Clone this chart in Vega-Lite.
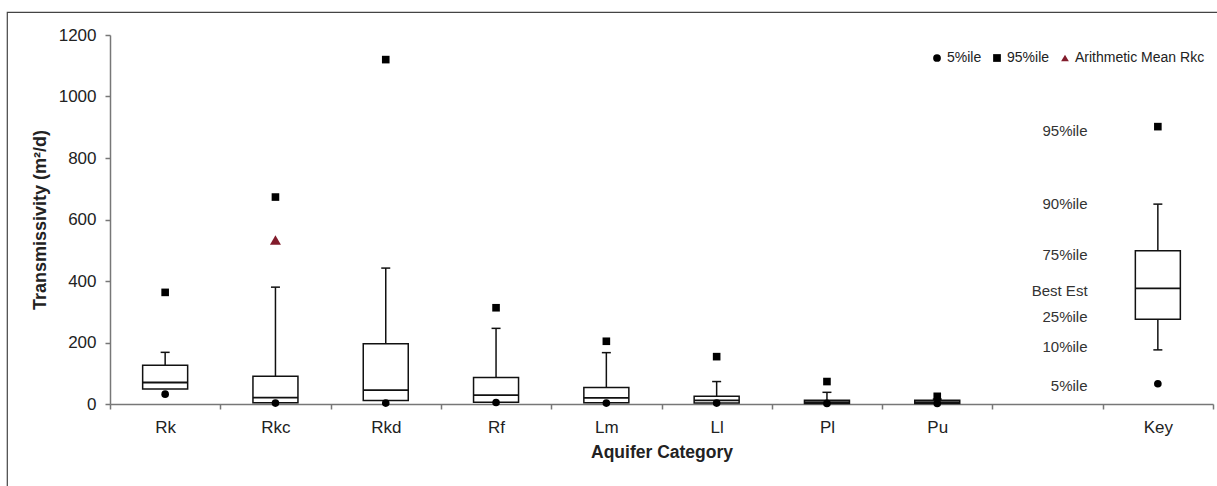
{
  "$schema": "https://vega.github.io/schema/vega-lite/v6.json",
  "autosize": {"type": "none"},
  "padding": {"left": 7, "top": 12, "right": 0, "bottom": 0},
  "width": 1210,
  "height": 474,
  "background": "white",
  "config": {
    "view": {"stroke": "#444", "strokeWidth": 1.2, "strokeDash": [1210, 1684, 474]},
    "font": "Liberation Sans",
    "axis": {
      "grid": false,
      "domainColor": "#777",
      "domainWidth": 1.5,
      "tickColor": "#777",
      "tickWidth": 1.5,
      "labelColor": "#222",
      "titleColor": "#222",
      "labelFont": "Liberation Sans",
      "titleFont": "Liberation Sans"
    },
    "legend": {
      "title": null,
      "orient": "none",
      "legendX": 923,
      "legendY": 39,
      "direction": "horizontal",
      "padding": 0,
      "labelFontSize": 14,
      "labelColor": "#222",
      "labelFont": "Liberation Sans",
      "symbolSize": 60,
      "labelOffset": 3,
      "columnPadding": 8
    }
  },
  "datasets": {
    "boxes": [
      {"cat": "Rk", "p10": null, "p25": 49, "p50": 70, "p75": 126, "p90": 168},
      {"cat": "Rkc", "p10": null, "p25": 4, "p50": 21, "p75": 90, "p90": 380},
      {"cat": "Rkd", "p10": null, "p25": 11, "p50": 45, "p75": 196, "p90": 442},
      {"cat": "Rf", "p10": null, "p25": 6, "p50": 29, "p75": 86, "p90": 246},
      {"cat": "Lm", "p10": null, "p25": 4, "p50": 20, "p75": 54, "p90": 167},
      {"cat": "Ll", "p10": null, "p25": 3, "p50": 12, "p75": 25, "p90": 73},
      {"cat": "Pl", "p10": null, "p25": 2, "p50": 6, "p75": 12, "p90": 38},
      {"cat": "Pu", "p10": null, "p25": 2, "p50": 6, "p75": 12, "p90": 16},
      {"cat": "Key", "p10": 176, "p25": 276, "p50": 376, "p75": 498, "p90": 650}
    ],
    "points": [
      {"cat": "Rk", "series": "5%ile", "value": 32},
      {"cat": "Rkc", "series": "5%ile", "value": 3},
      {"cat": "Rkd", "series": "5%ile", "value": 3},
      {"cat": "Rf", "series": "5%ile", "value": 5},
      {"cat": "Lm", "series": "5%ile", "value": 3},
      {"cat": "Ll", "series": "5%ile", "value": 3},
      {"cat": "Pl", "series": "5%ile", "value": 2},
      {"cat": "Pu", "series": "5%ile", "value": 2},
      {"cat": "Key", "series": "5%ile", "value": 66},
      {"cat": "Rk", "series": "95%ile", "value": 363},
      {"cat": "Rkc", "series": "95%ile", "value": 673},
      {"cat": "Rkd", "series": "95%ile", "value": 1120},
      {"cat": "Rf", "series": "95%ile", "value": 313},
      {"cat": "Lm", "series": "95%ile", "value": 204},
      {"cat": "Ll", "series": "95%ile", "value": 154},
      {"cat": "Pl", "series": "95%ile", "value": 73},
      {"cat": "Pu", "series": "95%ile", "value": 25},
      {"cat": "Key", "series": "95%ile", "value": 902}
    ],
    "means": [
      {"cat": "Rkc", "series": "Arithmetic Mean Rkc", "value": 533}
    ],
    "keylabels": [
      {"cat": " ", "label": "95%ile", "value": 889},
      {"cat": " ", "label": "90%ile", "value": 650},
      {"cat": " ", "label": "75%ile", "value": 486},
      {"cat": " ", "label": "Best Est", "value": 367},
      {"cat": " ", "label": "25%ile", "value": 284},
      {"cat": " ", "label": "10%ile", "value": 184},
      {"cat": " ", "label": "5%ile", "value": 57}
    ]
  },
  "encoding": {
    "x": {
      "field": "cat",
      "type": "nominal",
      "sort": null,
      "scale": {
        "domain": ["Rk", "Rkc", "Rkd", "Rf", "Lm", "Ll", "Pl", "Pu", " ", "Key"],
        "range": [103, 1206],
        "paddingInner": 0,
        "paddingOuter": 0
      },
      "axis": {
        "title": "Aquifer Category",
        "titleFontSize": 17.5,
        "titleFontWeight": "bold",
        "labelFontSize": 17,
        "labelAngle": 0,
        "tickBand": "extent",
        "tickSize": 5,
        "labelPadding": 10,
        "titlePadding": 8,
        "offset": -82
      }
    }
  },
  "layer": [
    {
      "data": {"name": "boxes"},
      "mark": {"type": "rule", "stroke": "#111", "strokeWidth": 1.5},
      "encoding": {
        "y": {
          "field": "p75",
          "type": "quantitative",
          "title": "Transmissivity (m²/d)",
          "scale": {"domain": [0, 1200], "range": [392, 23], "nice": false, "zero": true},
          "axis": {
            "values": [0, 200, 400, 600, 800, 1000, 1200],
            "format": "d",
            "offset": -103,
            "tickSize": 5,
            "labelPadding": 9,
            "titlePadding": 9,
            "labelFontSize": 17,
            "titleFontSize": 18,
            "titleFontWeight": "bold"
          }
        },
        "y2": {"field": "p90"}
      }
    },
    {
      "data": {"name": "boxes"},
      "mark": {"type": "tick", "orient": "horizontal", "size": 9, "thickness": 1.5, "color": "#111", "opacity": 1},
      "encoding": {
        "y": {"field": "p90", "type": "quantitative", "title": "Transmissivity (m²/d)"}
      }
    },
    {
      "data": {"name": "boxes"},
      "mark": {"type": "rule", "stroke": "#111", "strokeWidth": 1.5},
      "encoding": {
        "y": {"field": "p10", "type": "quantitative", "title": "Transmissivity (m²/d)"},
        "y2": {"field": "p25"}
      }
    },
    {
      "data": {"name": "boxes"},
      "mark": {"type": "tick", "orient": "horizontal", "size": 9, "thickness": 1.5, "color": "#111", "opacity": 1},
      "encoding": {
        "y": {"field": "p10", "type": "quantitative", "title": "Transmissivity (m²/d)"}
      }
    },
    {
      "data": {"name": "boxes"},
      "mark": {"type": "bar", "size": 45, "fill": "white", "stroke": "#111", "strokeWidth": 1.5, "opacity": 1},
      "encoding": {
        "y": {"field": "p25", "type": "quantitative", "title": "Transmissivity (m²/d)"},
        "y2": {"field": "p75"}
      }
    },
    {
      "data": {"name": "boxes"},
      "mark": {"type": "tick", "orient": "horizontal", "size": 45, "thickness": 1.8, "color": "#111", "opacity": 1},
      "encoding": {
        "y": {"field": "p50", "type": "quantitative", "title": "Transmissivity (m²/d)"}
      }
    },
    {
      "data": {"name": "points"},
      "mark": {"type": "point", "filled": true, "opacity": 1, "strokeWidth": 0, "size": 58},
      "encoding": {
        "y": {"field": "value", "type": "quantitative", "title": "Transmissivity (m²/d)"},
        "shape": {
          "field": "series",
          "type": "nominal",
          "scale": {"domain": ["5%ile", "95%ile", "Arithmetic Mean Rkc"], "range": ["circle", "square", "triangle-up"]}
        },
        "color": {
          "field": "series",
          "type": "nominal",
          "scale": {"domain": ["5%ile", "95%ile", "Arithmetic Mean Rkc"], "range": ["#000000", "#000000", "#821C2C"]}
        }
      }
    },
    {
      "data": {"name": "means"},
      "mark": {"type": "point", "filled": true, "opacity": 1, "strokeWidth": 0, "size": 120},
      "encoding": {
        "y": {"field": "value", "type": "quantitative", "title": "Transmissivity (m²/d)"},
        "shape": {"field": "series", "type": "nominal"},
        "color": {"field": "series", "type": "nominal"}
      }
    },
    {
      "data": {"name": "keylabels"},
      "mark": {"type": "text", "align": "right", "baseline": "middle", "dx": 40, "fontSize": 15, "color": "#333", "font": "Liberation Sans"},
      "encoding": {
        "y": {"field": "value", "type": "quantitative", "title": "Transmissivity (m²/d)"},
        "text": {"field": "label"}
      }
    }
  ]
}
